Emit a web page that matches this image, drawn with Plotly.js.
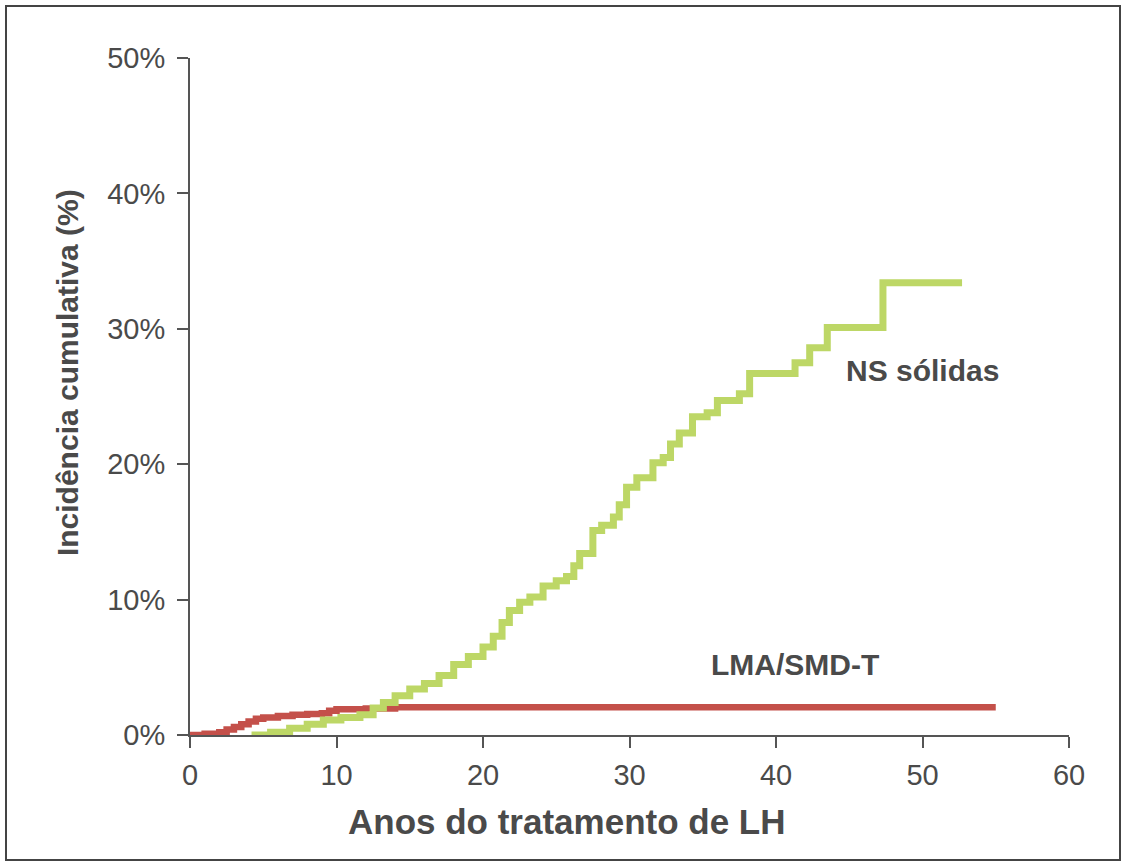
<!DOCTYPE html>
<html>
<head>
<meta charset="utf-8">
<script src="https://cdn.plot.ly/plotly-3.0.1.min.js"></script>
<style>
  html, body { margin: 0; padding: 0; background: #ffffff; }
  #wrap { position: relative; width: 1126px; height: 867px; }
  #chart { width: 1126px; height: 867px; }
  #frame { position: absolute; left: 5px; top: 5px; width: 1112px; height: 852px;
           border: 2px solid #444444; pointer-events: none; }
</style>
</head>
<body>
<div id="wrap">
  <div id="chart"></div>
  <div id="frame"></div>
</div>
<script>
// Years since HL treatment (x) and cumulative incidence in % (y)
const solidYears = [4.2, 5.5, 6.8, 8, 9.1, 10.3, 11.6, 12.5, 13.2, 14, 15, 16, 17, 18, 19, 20, 20.7, 21.3, 21.8, 22.5, 23.2, 24.1, 25, 25.7, 26.2, 26.6, 27.5, 28.1, 28.9, 29.3, 29.8, 30.5, 31.6, 32.3, 32.8, 33.4, 34.3, 35.3, 36, 37.5, 38.2, 41.3, 42.3, 43.5, 47.3, 52.7];
const solidIncidence = [0, 0.2, 0.5, 0.8, 1.1, 1.3, 1.5, 2.0, 2.4, 2.9, 3.4, 3.8, 4.4, 5.2, 5.8, 6.5, 7.3, 8.3, 9.2, 9.8, 10.2, 11.0, 11.4, 11.7, 12.5, 13.4, 15.1, 15.5, 16.1, 17.0, 18.3, 19.0, 20.1, 20.5, 21.5, 22.3, 23.5, 23.8, 24.7, 25.2, 26.7, 27.5, 28.6, 30.1, 33.4, 33.4];

const amlYears = [0, 1, 2, 2.5, 3, 3.5, 4, 4.5, 5, 6, 7, 8, 9, 9.5, 10, 12, 14, 55];
const amlIncidence = [0, 0.1, 0.2, 0.4, 0.6, 0.8, 1.0, 1.2, 1.3, 1.4, 1.5, 1.55, 1.6, 1.8, 1.9, 1.95, 2.05, 2.05];

const xTickValues = [0, 10, 20, 30, 40, 50, 60];
const xTickLabels = ['0', '10', '20', '30', '40', '50', '60'];
const yTickValues = [0, 10, 20, 30, 40, 50];
const yTickLabels = ['0%', '10%', '20%', '30%', '40%', '50%'];

const seriesNames = ['NS sólidas', 'LMA/SMD-T'];
const xTitle = 'Anos do tratamento de LH';
const yTitle = 'Incidência cumulativa (%)';

const textColor = '#4a4a4a';
const fontFamily = '"Liberation Sans", Arial, Helvetica, sans-serif';

const traces = [
  {
    x: amlYears, y: amlIncidence, name: seriesNames[1],
    type: 'scatter', mode: 'lines',
    line: { shape: 'hv', color: '#c4504a', width: 6.5 }
  },
  {
    x: solidYears, y: solidIncidence, name: seriesNames[0],
    type: 'scatter', mode: 'lines',
    line: { shape: 'hv', color: '#bdd766', width: 7 }
  }
];

const layout = {
  width: 1126, height: 867,
  margin: { l: 190, r: 57, t: 58, b: 132 },
  paper_bgcolor: '#ffffff', plot_bgcolor: '#ffffff',
  showlegend: false,
  font: { family: fontFamily, color: textColor },
  xaxis: {
    range: [0, 60], tickmode: 'array', tickvals: xTickValues, ticktext: xTickLabels,
    showgrid: false, zeroline: false,
    showline: true, linecolor: '#555555', linewidth: 2,
    ticks: 'outside', ticklen: 11, tickwidth: 2, tickcolor: '#555555',
    ticklabelstandoff: 2,
    tickfont: { size: 29, color: textColor, family: fontFamily }
  },
  yaxis: {
    range: [0, 50], tickmode: 'array', tickvals: yTickValues, ticktext: yTickLabels,
    showgrid: false, zeroline: false,
    showline: true, linecolor: '#555555', linewidth: 2,
    ticks: 'outside', ticklen: 11, tickwidth: 2, tickcolor: '#555555',
    ticklabelstandoff: 6,
    tickfont: { size: 29, color: textColor, family: fontFamily }
  },
  annotations: [
    { text: '<b>' + xTitle + '</b>', xref: 'x', yref: 'paper', x: 25.7, y: -0.1285,
      showarrow: false, xanchor: 'center', yanchor: 'middle',
      font: { size: 35, color: textColor, family: fontFamily } },
    { text: '<b>' + yTitle + '</b>', xref: 'paper', yref: 'y', x: -0.14, y: 26.8,
      textangle: -90, showarrow: false, xanchor: 'center', yanchor: 'middle',
      font: { size: 30, color: textColor, family: fontFamily } },
    { text: '<b>' + seriesNames[0] + '</b>', xref: 'x', yref: 'y', x: 50.0, y: 26.9,
      showarrow: false, xanchor: 'center', yanchor: 'middle',
      font: { size: 30, color: textColor, family: fontFamily } },
    { text: '<b>' + seriesNames[1] + '</b>', xref: 'x', yref: 'y', x: 41.3, y: 5.2,
      showarrow: false, xanchor: 'center', yanchor: 'middle',
      font: { size: 30, color: textColor, family: fontFamily } }
  ]
};

Plotly.newPlot('chart', traces, layout, { displayModeBar: false, staticPlot: true });
</script>
</body>
</html>
